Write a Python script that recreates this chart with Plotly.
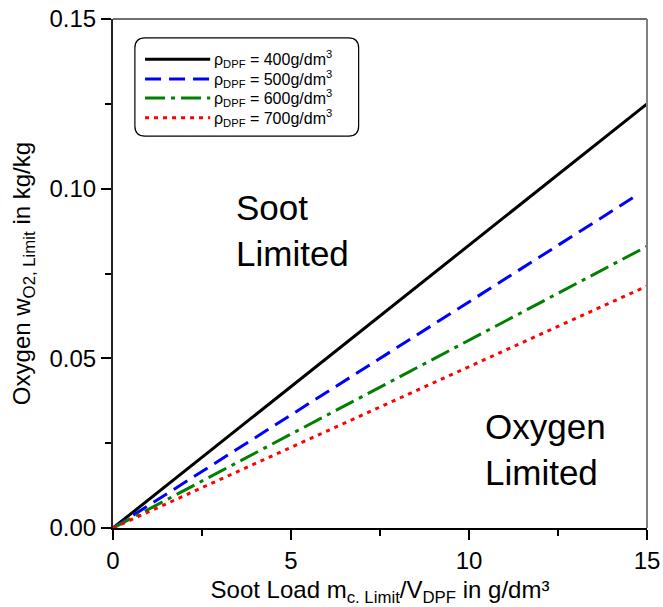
import plotly.graph_objects as go

# Data
densities = ["400", "500", "600", "700"]
x_400 = [0, 15]
y_400 = [0, 0.125]
x_500 = [0, 14.6]
y_500 = [0, 0.0973]
x_600 = [0, 15]
y_600 = [0, 0.0830]
x_700 = [0, 15]
y_700 = [0, 0.0713]

xs = [x_400, x_500, x_600, x_700]
ys = [y_400, y_500, y_600, y_700]
colors = ["black", "#0000ff", "#008000", "#ff0000"]
dashes = ["solid", "16px,8px", "20px,6px,4px,6px", "4px,5px"]

x_ticks = [0, 5, 10, 15]
y_ticks = [0.00, 0.05, 0.10, 0.15]
y_ticklabels = ["0.00", "0.05", "0.10", "0.15"]

FONT = "Liberation Sans, Arial, sans-serif"

fig = go.Figure()
for d, x, y, c, ds in zip(densities, xs, ys, colors, dashes):
    fig.add_trace(go.Scatter(
        x=x, y=y, mode="lines",
        line=dict(color=c, width=3, dash=ds),
        name=f"ρ<sub>DPF</sub> = {d}g/dm<sup>3</sup>",
        showlegend=False,
    ))

# Manual legend (rounded box, samples, labels) in paper coordinates
shapes = [
    dict(type="line", xref="paper", yref="paper", x0=0, x1=1, y0=1, y1=1,
         line=dict(color="#707070", width=2)),
    dict(type="line", xref="paper", yref="paper", x0=1, x1=1, y0=0, y1=1,
         line=dict(color="#808080", width=2)),
]
bx0, bx1, by0, by1 = 0.041, 0.460, 0.770, 0.963
rx, ry = 0.019, 0.020
shapes.append(dict(
    type="path", xref="paper", yref="paper",
    path=(f"M {bx0+rx},{by1} L {bx1-rx},{by1} Q {bx1},{by1} {bx1},{by1-ry} "
          f"L {bx1},{by0+ry} Q {bx1},{by0} {bx1-rx},{by0} L {bx0+rx},{by0} "
          f"Q {bx0},{by0} {bx0},{by0+ry} L {bx0},{by1-ry} Q {bx0},{by1} {bx0+rx},{by1} Z"),
    line=dict(color="black", width=1.2)))

annotations = []
row_y = [0.9208, 0.882, 0.845, 0.806]
for d, c, ds, ry_ in zip(densities, colors, dashes, row_y):
    shapes.append(dict(type="line", xref="paper", yref="paper",
                       x0=0.060, x1=0.182, y0=ry_, y1=ry_,
                       line=dict(color=c, width=3, dash=ds)))
    annotations.append(dict(x=0.186, y=ry_, xref="paper", yref="paper",
                            text=f"ρ<sub>DPF</sub> = {d}g/dm<sup>3</sup>",
                            showarrow=False, xanchor="left", yanchor="middle",
                            font=dict(size=16)))

annotations += [
    dict(x=3.4, y=0.0878, xref="x", yref="y", text="Soot<br>Limited", showarrow=False,
         xanchor="left", yanchor="middle", align="left", font=dict(size=35)),
    dict(x=10.4, y=0.023, xref="x", yref="y", text="Oxygen<br>Limited", showarrow=False,
         xanchor="left", yanchor="middle", align="left", font=dict(size=35)),
]

fig.update_layout(
    width=663, height=607,
    margin=dict(l=113, r=16, t=19, b=79),
    plot_bgcolor="white", paper_bgcolor="white",
    font=dict(family=FONT, color="black"),
    showlegend=False,
    xaxis=dict(
        range=[0, 15], tickvals=x_ticks, ticks="outside", ticklen=10, tickwidth=1.5,
        tickcolor="black", showline=True, linecolor="black", linewidth=2,
        showgrid=False, zeroline=False, tickfont=dict(size=24), automargin=False,
        minor=dict(dtick=2.5, ticks="outside", ticklen=6, tickcolor="black", tickwidth=1.5, showgrid=False),
        title=dict(text="Soot Load m<sub>c. Limit</sub>/V<sub>DPF</sub> in g/dm³", font=dict(size=24), standoff=8),
    ),
    yaxis=dict(
        range=[0, 0.15], tickvals=y_ticks, ticktext=y_ticklabels, ticks="outside", ticklen=10, tickwidth=1.5,
        tickcolor="black", showline=True, linecolor="#222", linewidth=2,
        showgrid=False, zeroline=False, tickfont=dict(size=24), automargin=False,
        minor=dict(dtick=0.025, ticks="outside", ticklen=6, tickcolor="black", tickwidth=1.5, showgrid=False),
        title=dict(text="Oxygen w<sub>O2, Limit</sub> in kg/kg", font=dict(size=24), standoff=12),
    ),
    shapes=shapes,
    annotations=annotations,
)

fig.write_html("out.html")
